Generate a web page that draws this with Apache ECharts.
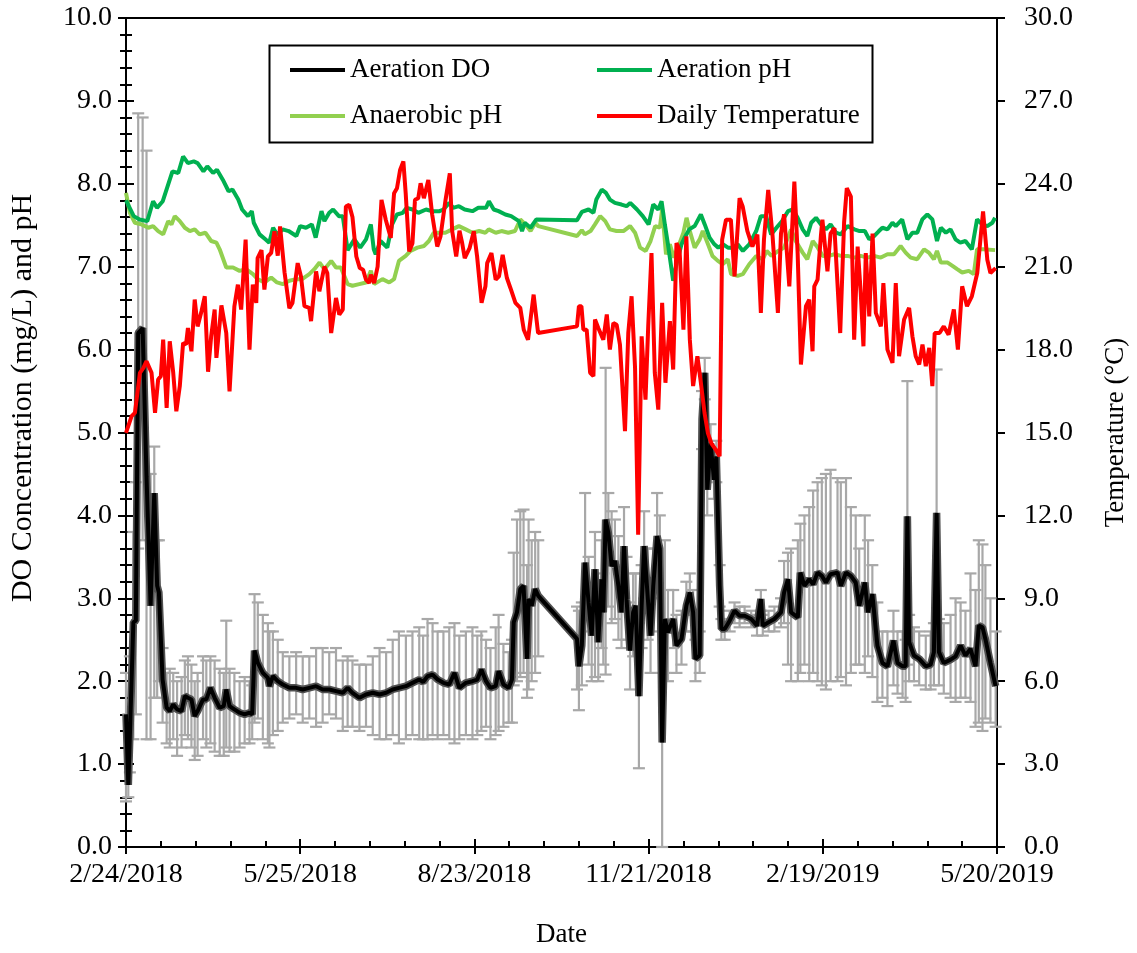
<!DOCTYPE html>
<html>
<head>
<meta charset="utf-8">
<script src="https://cdn.jsdelivr.net/npm/echarts@6/dist/echarts.min.js"></script>
<style>
html,body{margin:0;padding:0;background:#fff;}
#chart{width:1137px;height:953px;}
</style>
</head>
<body>
<div id="chart"></div>
<script>
// x values are days after 2/24/2018
const xTickLabels = ['2/24/2018','5/25/2018','8/23/2018','11/21/2018','2/19/2019','5/20/2019'];
const leftTickLabels = ['0.0','1.0','2.0','3.0','4.0','5.0','6.0','7.0','8.0','9.0','10.0'];
const rightTickLabels = ['0.0','3.0','6.0','9.0','12.0','15.0','18.0','21.0','24.0','27.0','30.0'];

const aerPHDays = [0,4,7,11,14,16,19,24,27,29.5,32,35,37,40,42,45,47,50,53,55,58,60,63,65,66,69,72,74,76,78,81,84,88,90,93,96,98,101,102.5,105,107,110,112,114.5,118,121,124,126.5,128,129,131.5,135,137.5,140,143,145,148,151,155,158,162,164,167,169,172,175,179,182,186,187.5,190,192.5,196,199,203,204.6,206,209,212,233,235.5,239,241.5,243,245.8,248,250,252.6,256,258.6,260.5,264,267,270,272.4,275,276.7,278.4,280,282.7,284.4,287,288.6,291,293.8,297,299,301.5,304,306,308.5,311,313.5,316,318.7,322,325.6,328,330.7,333.3,336.8,339,342,344.5,347,349.6,352,354,356.5,359,361.6,364,366.8,369.3,372.8,376.3,379,381.7,384,386.5,389,390.8,393.4,396,397.7,401,403.7,406.3,408.8,411.4,414,416.6,419,421,423.6,426,428.6,431,433.7,437,439.7,442.3,445,447.6,449];
const aerPH = [7.80,7.61,7.57,7.55,7.79,7.71,7.79,8.15,8.13,8.33,8.25,8.27,8.25,8.15,8.21,8.13,8.17,8.05,7.91,7.93,7.81,7.69,7.61,7.67,7.53,7.39,7.33,7.29,7.47,7.39,7.45,7.43,7.37,7.49,7.47,7.51,7.35,7.67,7.55,7.65,7.69,7.61,7.61,7.20,7.33,7.23,7.33,7.51,7.21,7.15,7.31,7.23,7.51,7.63,7.65,7.71,7.69,7.65,7.69,7.67,7.67,7.69,7.77,7.71,7.73,7.69,7.67,7.71,7.71,7.79,7.69,7.67,7.63,7.61,7.55,7.43,7.53,7.47,7.57,7.56,7.66,7.69,7.65,7.81,7.93,7.89,7.81,7.77,7.75,7.73,7.77,7.69,7.61,7.51,7.75,7.69,7.79,7.51,7.27,6.83,7.03,7.27,7.35,7.45,7.49,7.63,7.51,7.35,7.27,7.23,7.27,7.23,7.23,7.27,7.19,7.27,7.43,7.61,7.61,7.39,7.49,7.55,7.67,7.69,7.59,7.45,7.37,7.53,7.59,7.51,7.45,7.51,7.41,7.39,7.49,7.45,7.43,7.43,7.33,7.37,7.43,7.47,7.45,7.53,7.49,7.57,7.33,7.41,7.41,7.57,7.63,7.57,7.31,7.47,7.41,7.45,7.33,7.29,7.31,7.21,7.57,7.51,7.49,7.53,7.59];

const anaPHDays = [0,2,4.6,8,11.5,14,16.6,19.2,21.8,23.5,25.2,27.8,30.4,33,35.5,38,41,44,46.7,48.4,51.8,55.3,58.7,62,65.6,68,71.6,75,78,81,84.4,88,91,94.7,97.3,100,102.5,106,108.5,111,114.5,117,120.5,124,126.5,128.2,132.5,136,138.5,141,144.5,147,150.5,154,156.5,159,162,165,168.5,172,175.5,179,182.5,185.7,187.4,191,194,197.5,201,203.7,206.3,209,211.5,213,233,235.5,237,240,242.3,245,247.6,250,253.4,257,260.4,263,265.6,268.5,271,273.4,275.8,277,279,281,283,285.5,288,289.6,291.3,293.8,296.4,298,300.7,303,305.8,308.4,310.9,312.6,316,318.7,322,325.6,329,331,333.5,337,340,343.6,346,349.6,352,354.8,357.4,360,363,366,369.5,372.8,376.3,379.6,383,386.5,390,393.4,396.8,400.2,402.8,405.4,408.8,412.3,414.8,417.4,419,421,424.5,427,429.4,432,435.4,438,439.7,443,449];
const anaPH = [7.89,7.65,7.53,7.51,7.47,7.49,7.43,7.39,7.55,7.51,7.61,7.55,7.47,7.43,7.45,7.39,7.41,7.31,7.29,7.21,6.99,6.99,6.95,6.97,6.91,6.85,6.81,6.87,6.81,6.79,6.83,6.85,6.85,6.91,6.97,7.05,6.97,7.07,6.99,6.99,6.79,6.77,6.79,6.81,6.95,6.79,6.85,6.81,6.85,7.07,7.13,7.19,7.23,7.25,7.31,7.41,7.41,7.41,7.45,7.49,7.45,7.41,7.43,7.41,7.45,7.41,7.43,7.41,7.43,7.57,7.51,7.43,7.53,7.49,7.37,7.44,7.39,7.43,7.51,7.61,7.55,7.45,7.43,7.43,7.49,7.41,7.23,7.19,7.31,7.49,7.47,7.69,7.15,7.27,7.11,7.25,7.41,7.59,7.43,7.23,7.33,7.43,7.27,7.13,7.07,7.03,7.09,6.91,6.89,6.91,7.03,7.13,7.09,7.19,7.13,7.19,7.23,7.45,7.31,7.17,7.09,7.31,7.23,7.13,7.13,7.15,7.13,7.13,7.11,7.13,7.11,7.13,7.11,7.15,7.15,7.25,7.17,7.11,7.09,7.21,7.17,7.09,7.19,7.05,7.05,7.01,6.97,6.93,6.95,6.91,7.21,7.21,7.20];

const tempDays = [0,2.9,4.6,7.2,9,10.6,13.2,15,16.6,18,19.2,21,22.6,24.4,26,27.8,29.5,31,32,33.8,35.5,37,39,40.7,42.4,44,45.8,46.7,49.3,51.8,53.5,56,57.8,59.5,61.8,63.8,65.5,67.3,68,70,71.5,73.3,75,76.7,78.4,79.6,81.9,84.4,86,88.7,90.4,92.2,94.7,95.6,98.2,99.9,102.5,104,106,108.5,110.2,112,113.6,115.3,117,119,120.8,122.5,124,125.6,126.5,128.2,130,132,134.2,136.8,138.5,140,141.6,143.3,144.5,146.3,148,149.3,151,152.2,153.9,156.2,158.2,160.8,162.5,165.1,167.3,168.5,170.6,172.3,173.7,175,177.5,179.7,181.4,183.7,185.7,186.6,188.8,191,192.7,194.6,196.8,198.6,201.2,203.7,205.5,207.7,210.6,212.9,233,234,235.3,236.3,238,239.8,241.5,242.3,244,246.6,248.4,250,251.8,253.5,255.2,257.8,259.5,261.2,263,264.6,266.4,268.4,269.8,271.5,273.2,275,277,278.7,281,282.7,284.4,286,288,289.5,291.3,293,295.2,297,298.9,300.6,302.5,304.5,306.7,308,310,312.5,314.4,317,318.6,321,323.6,326.2,328,329.6,331.8,334,336.8,338.4,340,342.7,345.3,347,348.7,351.3,353,354.7,355.6,357.3,359,359.8,362.4,364,366,369,371,372.4,374.5,376.2,378,379.6,381,382.2,384,385.7,387.4,390,391.3,393.4,396,397.7,399.4,402,404.6,406.3,408,409.8,411.5,413.2,415,416.6,417.8,420.3,422.5,425,427.7,429.8,432,434.5,437,439.8,442.8,445,446.6,449.3];
const temperature = [14.99,15.59,15.71,17.16,17.34,17.58,17.16,15.71,16.92,17.04,18.36,15.89,18.3,17.16,15.77,16.68,18.24,18.18,18.78,17.94,19.81,18.84,19.39,19.93,17.2,18.48,19.45,17.7,19.6,18.6,16.49,19.57,20.35,19.45,21.98,18.0,20.35,19.69,21.31,21.6,20.17,21.37,21.5,22.28,21.4,22.46,20.8,19.5,19.69,21.13,20.65,19.57,19.51,19.03,20.83,20.11,21.0,20.77,18.6,19.87,19.27,19.45,23.18,23.24,22.8,21.37,20.95,20.89,20.53,20.41,20.71,20.41,21.0,23.42,22.7,22.04,23.66,23.84,24.5,24.81,23.66,21.55,21.85,23.42,23.48,24.02,23.48,24.14,22.88,21.73,22.1,23.42,24.38,22.3,21.37,22.3,21.85,21.31,21.67,22.28,21.37,19.69,20.29,21.13,21.49,20.53,20.65,21.43,20.59,20.23,19.69,19.51,18.72,18.36,19.99,18.6,18.84,19.57,19.57,18.72,18.72,17.16,17.04,19.09,18.78,18.36,19.27,18.0,18.96,18.9,18.18,15.05,18.6,19.93,17.34,11.3,18.48,16.19,18.84,21.49,17.16,15.83,19.69,16.8,19.03,17.28,21.86,21.6,18.72,22.1,18.36,16.68,17.76,16.8,15.71,14.99,14.6,14.4,14.14,21.98,22.7,22.7,20.65,23.48,23.18,22.3,21.73,22.16,19.33,21.98,23.78,22.16,19.33,22.2,22.9,20.29,24.08,21.49,17.46,19.57,19.81,17.94,20.29,20.53,22.1,22.7,20.83,22.2,22.4,18.6,22.6,23.84,23.54,18.36,21.73,20.05,18.12,21.49,19.2,22.2,19.33,18.84,20.41,18.0,17.52,20.41,17.76,19.09,19.51,18.48,17.76,17.46,18.18,17.4,18.06,16.68,18.6,18.6,18.84,18.54,19.45,18.0,20.29,19.57,19.93,20.77,23.0,21.25,20.77,20.95];

const doDays = [0,1.2,2,3.8,5.1,6.3,8.6,10.6,12.7,14.6,16.1,17,18.9,21,22.6,24.4,26.4,28.7,30.4,32,33.8,35.5,37,39.8,41.5,43.6,45.8,48.4,50.5,51.8,53.5,56,58.7,61.3,63.8,65.2,66.4,68.1,70.7,73.3,74.1,75.9,78.4,81,84.4,87.9,91.3,94.7,98.2,101.6,105,108.5,112,114.5,117,120.6,124,127.5,131,134.4,137.8,141,144.6,148,151.5,153.5,155.8,158.4,161,164,167,169.7,172.2,175.6,179,181.5,183.6,186,188.3,191,192.5,195,197.7,199.4,200.3,202,203.7,205.4,207.2,208,209.6,211.4,213,233,234,235.5,237.2,239,240.6,242.3,244,245.7,246.6,247.8,249.2,250.9,252.6,254.4,256,257.3,258.6,260.4,262,263.3,265,266.4,267.7,269.5,271,272.4,274.4,275.8,277,278.4,280,282.7,284.4,287,289.5,291.3,293,294.2,296.4,297.6,299,300.3,302,303.8,305,306.7,307.6,309.3,311.9,314.4,317,319.6,323,326,328,329,332,335,338.4,340,342,343.6,347.1,348.4,350.5,353,355,357.3,359.5,361.6,364,367.6,369.3,372,374.5,377,378.8,381.7,383.4,385.6,388.2,390.8,393.4,396.5,398.6,401.2,402.8,403.7,404.6,407.1,409.8,413.2,415.7,417.4,418.8,420,422.5,426,428.6,431.2,433.7,436.3,438.9,440.6,442.5,444,446.6,449.3];
const doMean = [1.6,0.75,1.34,2.71,2.73,6.2,6.26,4.47,2.91,4.27,3.15,3.07,2.02,1.68,1.64,1.72,1.66,1.64,1.82,1.80,1.78,1.58,1.64,1.78,1.78,1.92,1.80,1.68,1.70,1.90,1.70,1.66,1.62,1.60,1.62,1.60,2.37,2.22,2.10,2.04,1.94,2.06,2.0,1.96,1.92,1.92,1.90,1.92,1.94,1.90,1.90,1.88,1.86,1.92,1.86,1.80,1.84,1.86,1.84,1.86,1.90,1.92,1.94,1.98,2.02,1.99,2.06,2.08,2.02,1.98,1.96,2.10,1.92,1.98,2.0,2.02,2.14,2.0,1.92,1.94,2.12,1.96,1.92,2.02,2.71,2.83,3.11,3.15,2.27,2.99,2.91,3.11,3.03,2.51,2.18,2.43,3.43,2.95,2.55,3.35,2.47,3.23,2.83,3.95,3.79,3.39,3.45,3.15,2.83,3.63,2.99,2.37,2.83,2.91,1.82,2.91,3.63,3.03,2.55,3.15,3.75,3.6,1.26,2.75,2.59,2.75,2.43,2.51,2.91,3.07,2.83,2.27,2.31,5.16,5.72,4.31,4.87,4.43,4.71,3.15,2.63,2.63,2.73,2.85,2.79,2.79,2.75,2.67,2.99,2.67,2.71,2.75,2.83,3.07,3.23,2.83,2.77,3.31,3.15,3.23,3.17,3.31,3.27,3.19,3.29,3.31,3.15,3.31,3.27,3.19,2.91,3.19,2.83,3.05,2.43,2.22,2.18,2.49,2.22,2.18,2.18,3.99,2.47,2.31,2.27,2.18,2.20,2.35,4.03,2.35,2.22,2.26,2.30,2.43,2.31,2.39,2.18,2.67,2.65,2.51,2.22,1.94];
const doHigh = [2.1,1.6,2.3,3.8,4.4,8.85,8.8,8.4,4.5,4.83,3.7,3.7,2.4,2.1,2.15,2.1,2.0,2.05,2.25,2.3,2.2,2.0,2.1,2.3,2.25,2.3,2.25,2.15,2.1,2.73,2.15,2.1,2.0,2.05,2.0,1.95,3.05,2.95,2.8,2.7,2.6,2.6,2.5,2.35,2.3,2.35,2.3,2.3,2.4,2.4,2.35,2.4,2.25,2.3,2.25,2.2,2.2,2.3,2.4,2.35,2.5,2.6,2.55,2.6,2.65,2.55,2.75,2.7,2.6,2.6,2.65,2.7,2.55,2.6,2.65,2.55,2.6,2.5,2.4,2.65,2.8,2.45,2.35,2.5,3.55,3.95,4.05,4.07,3.4,3.95,3.7,3.8,3.7,2.9,2.85,2.95,4.27,3.5,3.1,3.8,3.0,3.7,3.3,5.78,4.27,4.05,3.95,3.75,3.4,4.1,3.5,2.95,3.3,3.3,2.7,3.4,4.05,3.6,3.0,3.6,4.27,4.0,2.1,3.7,3.1,3.1,2.8,2.85,3.2,3.3,3.1,2.5,2.6,5.5,5.9,4.6,5.1,4.7,4.9,3.4,2.75,2.75,2.85,2.95,2.9,2.9,2.85,2.8,3.1,2.8,2.85,2.9,3.0,3.45,3.55,3.6,3.7,3.9,4.0,4.1,4.3,4.4,4.45,4.5,4.55,4.45,4.4,4.45,4.1,4.0,3.6,4.0,3.7,3.4,2.95,2.6,2.6,2.85,2.6,2.6,2.5,5.62,2.8,2.65,2.6,2.55,2.6,2.7,5.76,2.75,2.7,2.8,3.0,2.95,2.85,3.3,3.1,3.7,3.65,3.4,3.0,2.6];
const doLow = [0.55,0.6,0.9,1.3,1.6,3.6,3.7,1.3,1.3,1.8,1.8,2.0,1.5,1.25,1.2,1.3,1.1,1.2,1.35,1.3,1.2,1.05,1.1,1.3,1.2,1.25,1.15,1.1,1.1,1.2,1.15,1.15,1.2,1.25,1.25,1.3,1.5,1.55,1.3,1.25,1.2,1.35,1.4,1.5,1.55,1.6,1.5,1.55,1.45,1.5,1.6,1.55,1.4,1.45,1.45,1.4,1.45,1.35,1.3,1.3,1.35,1.25,1.3,1.35,1.3,1.3,1.3,1.35,1.3,1.35,1.3,1.25,1.3,1.35,1.3,1.35,1.4,1.45,1.3,1.35,1.4,1.45,1.5,1.5,1.95,2.0,2.05,2.1,1.8,1.9,2.0,2.1,2.3,1.9,1.65,1.95,2.6,2.2,2.0,2.05,2.0,2.4,2.2,2.08,2.9,2.7,2.75,2.5,2.4,2.95,2.5,1.9,2.3,2.4,0.95,2.4,3.0,2.5,2.1,2.6,3.1,3.0,0.0,2.1,2.0,2.4,2.1,2.2,2.6,2.8,2.6,2.0,2.1,4.8,5.4,4.0,4.5,4.2,4.4,2.9,2.5,2.5,2.6,2.7,2.65,2.7,2.65,2.55,2.85,2.55,2.6,2.6,2.65,2.7,2.2,2.0,2.0,2.1,2.2,2.0,2.1,2.0,1.95,1.9,2.0,2.0,2.05,1.95,2.1,2.2,2.2,2.1,2.3,2.05,1.75,1.8,1.7,1.95,1.85,1.8,1.75,2.2,2.0,2.0,1.95,1.9,1.9,1.95,2.3,1.95,1.85,1.8,1.75,1.8,1.8,1.75,1.45,1.5,1.4,1.55,1.5,1.45];

const FONT = '"Liberation Serif", "Times New Roman", serif';
const zip = (xs, ys) => xs.map((x, i) => [x, ys[i]]);

const chart = echarts.init(document.getElementById('chart'), null, {renderer: 'canvas'});

const baseX = {type: 'value', min: 0, max: 450, interval: 90, splitLine: {show: false}};
const baseL = {type: 'value', min: 0, max: 10, interval: 1, splitLine: {show: false}};
const baseR = {type: 'value', min: 0, max: 30, interval: 3, splitLine: {show: false}};
const lineBlack = {show: true, lineStyle: {color: '#000', width: 2}};

const option = {
  animation: false,
  backgroundColor: '#fff',
  textStyle: {fontFamily: FONT, color: '#000'},
  grid: {left: 126, right: 135, top: 18, bottom: 105, show: true, borderColor: '#000', borderWidth: 2, backgroundColor: 'transparent'},
  legend: [
    {data: ['Aeration DO', 'Anaerobic pH'], orient: 'vertical', left: 290, top: 54, padding: 0,
     itemWidth: 55, itemHeight: 4, itemGap: 14, icon: 'rect',
     textStyle: {fontFamily: FONT, fontSize: 27, color: '#000', lineHeight: 32}},
    {data: ['Aeration pH', 'Daily Temperature'], orient: 'vertical', left: 597, top: 54, padding: 0,
     itemWidth: 55, itemHeight: 4, itemGap: 14, icon: 'rect',
     textStyle: {fontFamily: FONT, fontSize: 27, color: '#000', lineHeight: 32}}
  ],
  graphic: [
    {type: 'rect', left: 267, top: 43, shape: {width: 603, height: 97}, style: {fill: 'none', stroke: '#000', lineWidth: 2}, z: 100},
    {type: 'text', x: 23, y: 398, rotation: Math.PI / 2,
     style: {text: 'DO Concentration (mg/L) and pH', font: '30px "Liberation Serif", "Times New Roman", serif', fill: '#000', align: 'center', verticalAlign: 'middle'}, z: 100}
  ],
  xAxis: [
    Object.assign({}, baseX, {
      position: 'bottom', axisLine: lineBlack,
      axisTick: {show: true, inside: true, length: 8, lineStyle: {color: '#000', width: 2}},
      minorTick: {show: true, splitNumber: 5, length: 6, lineStyle: {color: '#000', width: 2}},
      axisLabel: {fontFamily: FONT, fontSize: 28, color: '#000', margin: 14,
        formatter: v => xTickLabels[Math.round(v / 90)]},
      name: 'Date', nameLocation: 'middle', nameGap: 74,
      nameTextStyle: {fontFamily: FONT, fontSize: 27, color: '#000'}
    }),
    Object.assign({}, baseX, {
      position: 'bottom', axisLine: {show: false},
      axisTick: {show: true, inside: false, length: 7, lineStyle: {color: '#000', width: 2}},
      axisLabel: {show: false}
    })
  ],
  yAxis: [
    Object.assign({}, baseL, {
      position: 'left', axisLine: lineBlack,
      axisTick: {show: true, inside: true, length: 8, lineStyle: {color: '#000', width: 2}},
      minorTick: {show: true, splitNumber: 5, length: 6, lineStyle: {color: '#000', width: 2}},
      axisLabel: {fontFamily: FONT, fontSize: 28, color: '#000', margin: 14,
        formatter: v => leftTickLabels[Math.round(v)]}
    }),
    Object.assign({}, baseR, {
      position: 'right', axisLine: lineBlack,
      axisTick: {show: true, inside: true, length: 8, lineStyle: {color: '#000', width: 2}},
      minorTick: {show: true, splitNumber: 5, length: 6, lineStyle: {color: '#000', width: 2}},
      axisLabel: {fontFamily: FONT, fontSize: 28, color: '#000', margin: 27,
        formatter: v => rightTickLabels[Math.round(v / 3)]},
      name: 'Temperature (°C)', nameLocation: 'middle', nameGap: 105, nameRotate: 90,
      nameTextStyle: {fontFamily: FONT, fontSize: 27, color: '#000'}
    }),
    Object.assign({}, baseL, {
      position: 'left', axisLine: {show: false},
      axisTick: {show: true, inside: false, length: 8, lineStyle: {color: '#000', width: 2}},
      axisLabel: {show: false}
    }),
    Object.assign({}, baseR, {
      position: 'right', axisLine: {show: false},
      axisTick: {show: true, inside: false, length: 8, lineStyle: {color: '#000', width: 2}},
      axisLabel: {show: false}
    })
  ],
  series: [
    {
      name: 'DO error', type: 'custom', xAxisIndex: 0, yAxisIndex: 0, z: 1,
      data: doDays.map((d, i) => [d, doLow[i], doHigh[i]]),
      encode: {x: 0, y: [1, 2]},
      renderItem: function (params, api) {
        const lo = api.coord([api.value(0), api.value(1)]);
        const hi = api.coord([api.value(0), api.value(2)]);
        const hw = 6;
        const st = {stroke: '#a8a8a8', lineWidth: 2.2};
        return {type: 'group', children: [
          {type: 'line', shape: {x1: hi[0], y1: hi[1], x2: lo[0], y2: lo[1]}, style: st},
          {type: 'line', shape: {x1: hi[0] - hw, y1: hi[1], x2: hi[0] + hw, y2: hi[1]}, style: st},
          {type: 'line', shape: {x1: lo[0] - hw, y1: lo[1], x2: lo[0] + hw, y2: lo[1]}, style: st}
        ]};
      }
    },
    {name: 'DO halo', type: 'line', xAxisIndex: 0, yAxisIndex: 0, z: 2, showSymbol: false, silent: true,
     data: zip(doDays, doMean), lineStyle: {color: '#505050', width: 7.5}, itemStyle: {color: '#505050'}},
    {name: 'Aeration DO', type: 'line', xAxisIndex: 0, yAxisIndex: 0, z: 3, showSymbol: false,
     data: zip(doDays, doMean), lineStyle: {color: '#000', width: 4}, itemStyle: {color: '#000'}},
    {name: 'Anaerobic pH', type: 'line', xAxisIndex: 0, yAxisIndex: 0, z: 4, showSymbol: false,
     data: zip(anaPHDays, anaPH), lineStyle: {color: '#92d050', width: 4}, itemStyle: {color: '#92d050'}},
    {name: 'Aeration pH', type: 'line', xAxisIndex: 0, yAxisIndex: 0, z: 5, showSymbol: false,
     data: zip(aerPHDays, aerPH), lineStyle: {color: '#00b050', width: 4}, itemStyle: {color: '#00b050'}},
    {name: 'Daily Temperature', type: 'line', xAxisIndex: 0, yAxisIndex: 1, z: 6, showSymbol: false,
     data: zip(tempDays, temperature), lineStyle: {color: '#ff0000', width: 4}, itemStyle: {color: '#ff0000'}}
  ]
};
chart.setOption(option);
</script>
</body>
</html>
